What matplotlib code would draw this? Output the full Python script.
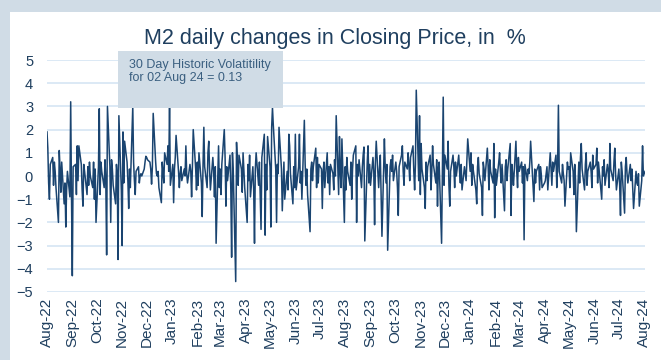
import numpy as np
import pandas as pd
import matplotlib
matplotlib.use("Agg")
import matplotlib.pyplot as plt
import matplotlib.dates as mdates
from matplotlib.patches import Rectangle

plt.rcParams['font.family'] = ['Liberation Sans', 'DejaVu Sans']

# Daily % change in M2 closing price, one row per month (business days)
pct_change = [
    1.9, 1.2, -0.3, -1.0, 0.5, 0.8, -0.4, 0.6, 0.2, -0.5, -2.0, 1.1, 0.3, -0.7, 0.6, -1.2, -0.3, -2.2, -0.6, 0.2, -0.9, 3.2, -0.9,  # Aug-22
    -4.3, 0.4, 0.5, -0.8, 1.3, -0.2, 1.3, 0.5, -0.6, -1.3, 0.5, 0.2, -0.8, 0.4, -0.4, 0.6, 0.0, -0.5, 0.6, -1.0, 0.3, -2.0,  # Sep-22
    0.4, 2.9, -0.8, 0.6, 0.2, -0.5, 0.7, -0.3, -3.4, 3.0, 0.4, -2.0, 0.7, 0.3, -0.4, -1.2, 0.5, 0.1, -3.6, 2.6, -0.6,  # Oct-22
    -3.0, 1.9, -0.3, 1.5, 0.6, -0.2, -1.4, 0.3, -0.5, 3.0, 0.6, -0.2, -0.8, 0.2, 0.4, -0.3, 0.0, 0.1, 0.0, 0.3, 0.6, 0.85,  # Nov-22
    0.8, 0.7, 0.6, 0.3, -0.35, 0.4, 2.7, 0.6, 0.1, 0.0, 0.2, -0.5, -1.15, 0.6, 0.2, -0.3, 1.0, 0.5, 1.3, 0.2, 3.0, -0.4,  # Dec-22
    0.5, -1.15, 0.3, 0.8, 1.75, 0.2, -0.5, 0.1, 0.4, -0.2, 0.3, 0.0, 1.3, 0.1, -0.3, 0.5, 0.2, -0.9, 0.4, 2.0, 0.3, -0.6,  # Jan-23
    0.6, -0.4, 1.0, -0.3, -1.75, 0.5, 2.1, 0.4, -0.5, 1.0, 1.5, 0.3, -0.6, 0.8, 0.2, -0.9, 0.4, -2.9, 1.3, -0.5,  # Feb-23
    0.3, -0.8, 0.5, 2.0, 0.8, -1.3, 0.4, -0.2, 0.9, -0.6, -3.5, 1.0, 0.2, -4.55, 1.45, 0.6, -0.4, 0.9, 0.3, -0.7, 1.0, 0.2, -0.5,  # Mar-23
    -2.0, 0.5, -0.2, 0.9, -0.9, 0.4, -0.6, -2.9, 0.3, 1.0, -0.4, 0.6, -0.8, -2.3, 0.8, 1.8, -2.55, 0.5, -0.6, 1.7,  # Apr-23
    0.4, -2.2, 2.1, 2.95, 2.2, 0.3, -2.0, 0.5, 0.1, 2.1, 0.3, -1.5, -0.4, 0.6, -1.0, 0.2, -0.6, 1.8, 1.3, 0.1, -1.2, 0.4, -0.5,  # May-23
    1.8, -0.6, 0.4, 1.8, -0.3, 0.2, -1.0, 2.4, 0.5, -0.4, 0.3, -0.8, -2.4, 0.3, 0.6, -0.2, 0.4, 1.2, -0.5, 0.8, -0.3, 0.5,  # Jun-23
    0.3, -1.4, 0.2, 0.6, -0.5, 1.0, -0.3, 0.4, -0.8, 0.5, 0.1, -0.6, 0.7, 0.0, 2.6, -0.8, 1.7, 0.2, -0.5, 1.6, -2.0,  # Jul-23
    0.4, -0.6, 0.8, 0.2, -0.4, 0.6, -1.0, 0.3, 0.9, 1.3, -2.0, 0.5, 0.0, 0.7, -0.5, 0.4, 0.9, 1.25, -2.8, 0.6, 1.3, -0.3, 0.5,  # Aug-23
    -0.4, 0.8, 0.2, -2.1, 0.6, 1.5, -0.5, 0.3, 0.9, -0.8, -2.6, 1.6, 0.4, -0.3, 0.5, -3.2, 0.4, 0.7, 0.2, 0.9, -0.2,  # Sep-23
    0.6, 0.2, -0.5, -1.7, 0.4, 0.9, 1.3, 0.2, -0.4, 0.6, 0.3, 1.0, 0.5, -0.2, 0.8, 1.3, 0.2, -0.6, 0.5, 3.7, -0.2, 2.6,  # Oct-23
    -0.8, 1.4, 0.3, -0.5, -1.4, 0.6, -0.2, 0.4, 0.9, -0.6, 0.2, 1.3, 0.5, -0.3, 0.7, -1.3, 0.3, 0.6, -2.9, 0.4, 3.4, -0.4,  # Nov-23
    0.9, 0.3, 1.5, -0.4, -1.3, 0.2, 0.9, 0.4, -0.5, 0.6, 0.0, 0.9, 0.2, -0.3, 0.5, -0.6, 0.4, 0.1, -0.2, 0.7, 1.6,  # Dec-23
    0.2, 1.0, -0.4, 0.5, 0.2, -0.6, -1.2, 0.4, 0.8, 0.1, -0.5, -1.7, 0.6, 0.3, -0.2, 1.2, 0.4, -0.6, 0.7, 0.2, -0.3, 1.4, -1.8,  # Jan-24
    0.3, -0.4, 0.6, 1.0, 0.2, -0.3, 0.5, -1.5, 0.4, 0.7, -0.2, 0.3, 1.4, -1.7, 0.5, 0.1, -0.4, 1.5, 0.2, -0.5, 0.8,  # Feb-24
    0.2, 0.6, -0.3, 0.4, -2.75, 0.5, -0.2, 0.3, 0.1, 0.6, 1.5, -0.4, -1.1, 0.3, -0.3, 0.2, 0.5, -0.6, 0.4, 0.1, -0.5,  # Mar-24
    -0.3, -0.2, 0.1, 0.4, -0.6, 1.0, 0.3, -0.4, 0.6, 0.2, 0.9, -0.5, 0.4, 3.05, 0.2, -0.3, 0.5, 0.1, -0.2, -1.3, 0.6, 0.3,  # Apr-24
    0.4, -0.5, 1.0, 0.2, -0.8, 0.5, -0.2, -2.4, 0.6, -0.3, 0.8, 1.4, 0.3, -0.6, 0.5, 1.0, -0.4, 0.2, 0.6, 0.2, -0.5, 0.9, 0.3,  # May-24
    0.5, 1.2, -0.3, 0.6, 0.2, -1.0, 0.4, 0.0, 0.7, -0.4, 0.5, 0.2, -0.5, 1.4, 0.3, -0.2, 0.6, 1.2, 0.1, -0.6,  # Jun-24
    0.3, -0.4, -1.7, 0.6, 0.2, -1.6, 0.4, 0.8, 0.1, -0.3, 0.5, -0.2, 0.3, -0.5, -1.4, 0.2, -0.3, -0.4, 0.1, -1.3, -0.2, 1.3, 0.0,  # Jul-24
    0.1, 0.2,  # Aug-24
]
last_day = "2024-08-02"
dates = pd.bdate_range(end=last_day, periods=len(pct_change))

title = "M2 daily changes in Closing Price, in  %"
vol_label = "30 Day Historic Volatitility\nfor 02 Aug 24 = 0.13"
y_ticks = [5, 4, 3, 2, 1, 0, -1, -2, -3, -4, -5]

navy = "#1a4470"
label_col = "#1f3f5f"
grid_col = "#d9e7f5"
frame_col = "#d0dce6"

fig = plt.figure(figsize=(6.61, 3.6), dpi=100, facecolor=frame_col)
# white panel inside the light frame
fig.patches.append(Rectangle((0.015, 0), 0.985, 0.967, transform=fig.transFigure,
                             facecolor="white", edgecolor="none", zorder=-5))

ax = fig.add_axes([0.0711, 0.1889, 0.9047, 0.6444])
ax.set_facecolor("none")
ax.plot(dates, pct_change, color=navy, lw=1.1, zorder=3)

ax.set_ylim(-5, 5)
ax.set_yticks(y_ticks)
ax.set_xlim(pd.Timestamp("2022-08-01"), pd.Timestamp(last_day))
ax.set_xticks(pd.date_range("2022-08-01", "2024-08-01", freq="MS"))
ax.xaxis.set_major_formatter(mdates.DateFormatter("%b-%y"))
ax.grid(axis="y", color=grid_col, lw=1.3)
ax.set_axisbelow(True)
for s in ax.spines.values():
    s.set_visible(False)
ax.tick_params(axis="y", length=0, pad=10, labelsize=10.5, labelcolor=label_col)
ax.tick_params(axis="x", length=0, pad=4, labelsize=11, labelcolor=label_col,
               labelrotation=90)

fig.text(0.507, 0.894, title, ha="center", va="center", fontsize=15.5, color=label_col)

# volatility note box
fig.patches.append(Rectangle((0.1785, 0.70), 0.2496, 0.158, transform=fig.transFigure,
                             facecolor=frame_col, edgecolor="none", zorder=4))
fig.text(0.195, 0.836, vol_label, ha="left", va="top", fontsize=9,
         color="#3a5f80", linespacing=1.15, zorder=5)

fig.savefig("out.png", dpi=100, facecolor=fig.get_facecolor())
